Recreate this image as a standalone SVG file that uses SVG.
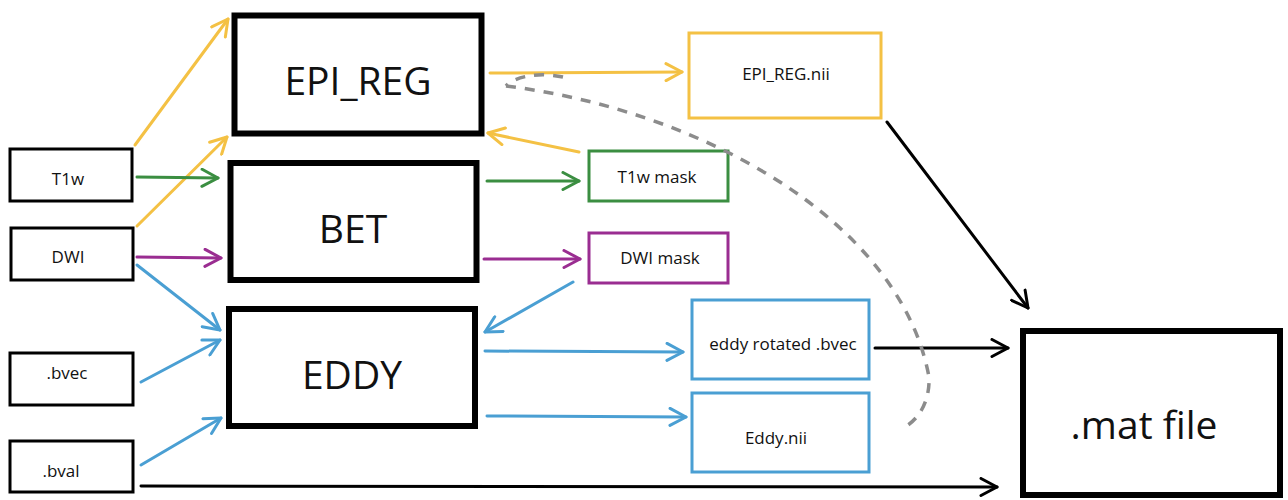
<svg xmlns="http://www.w3.org/2000/svg" width="1288" height="500" viewBox="0 0 1288 500">
<style>
  .big{fill:#fff;stroke:#000;stroke-width:6}
  .small{fill:#fff;stroke:#000;stroke-width:3}
  .yel{fill:#fff;stroke:#F4C144;stroke-width:3}
  .grn{fill:#fff;stroke:#3B8E41;stroke-width:3}
  .pur{fill:#fff;stroke:#9A2D91;stroke-width:3}
  .blu{fill:#fff;stroke:#4A9FD3;stroke-width:3}
  text{font-family:"Open Sans","Liberation Sans",sans-serif;fill:#111;text-anchor:middle}
  .tb{font-size:39px}
  .ts{font-size:17px}
  .c{fill:none;stroke-width:3;stroke-linecap:round}
  .cy{stroke:#F4C144}.cg{stroke:#3B8E41}.cp{stroke:#9A2D91}.cb{stroke:#4A9FD3}.ck{stroke:#000}
  .dash{fill:none;stroke:#8C8C8C;stroke-width:3.5;stroke-dasharray:10 9}
</style>
<defs>
  <marker id="ay" viewBox="0 0 20 20" refX="18" refY="10" markerWidth="20" markerHeight="20" markerUnits="userSpaceOnUse" orient="auto"><path d="M2,1.5 L18,10 L2,18.5" fill="none" stroke="#F4C144" stroke-width="3" stroke-linecap="round" stroke-linejoin="round"/></marker>
  <marker id="ag" viewBox="0 0 20 20" refX="18" refY="10" markerWidth="20" markerHeight="20" markerUnits="userSpaceOnUse" orient="auto"><path d="M2,1.5 L18,10 L2,18.5" fill="none" stroke="#3B8E41" stroke-width="3" stroke-linecap="round" stroke-linejoin="round"/></marker>
  <marker id="ap" viewBox="0 0 20 20" refX="18" refY="10" markerWidth="20" markerHeight="20" markerUnits="userSpaceOnUse" orient="auto"><path d="M2,1.5 L18,10 L2,18.5" fill="none" stroke="#9A2D91" stroke-width="3" stroke-linecap="round" stroke-linejoin="round"/></marker>
  <marker id="ab" viewBox="0 0 20 20" refX="18" refY="10" markerWidth="20" markerHeight="20" markerUnits="userSpaceOnUse" orient="auto"><path d="M2,1.5 L18,10 L2,18.5" fill="none" stroke="#4A9FD3" stroke-width="3" stroke-linecap="round" stroke-linejoin="round"/></marker>
  <marker id="ak" viewBox="0 0 20 20" refX="18" refY="10" markerWidth="20" markerHeight="20" markerUnits="userSpaceOnUse" orient="auto"><path d="M2,1.5 L18,10 L2,18.5" fill="none" stroke="#000" stroke-width="3" stroke-linecap="round" stroke-linejoin="round"/></marker>
</defs>
<rect width="1288" height="500" fill="#fff"/>

<g id="nodes">
  <g id="epi_reg"><rect class="big" x="234.5" y="15.5" width="247" height="118"/><text class="tb" x="358" y="95">EPI_REG</text></g>
  <g id="bet"><rect class="big" x="230.5" y="163" width="246" height="117"/><text class="tb" x="353" y="243">BET</text></g>
  <g id="eddy"><rect class="big" x="229" y="309" width="246" height="117"/><text class="tb" x="352" y="389">EDDY</text></g>
  <g id="t1w"><rect class="small" x="10" y="149" width="122" height="52"/><text class="ts" x="68" y="185">T1w</text></g>
  <g id="dwi"><rect class="small" x="11" y="228" width="122" height="52"/><text class="ts" x="68" y="263">DWI</text></g>
  <g id="bvec"><rect class="small" x="10" y="353" width="123" height="52"/><text class="ts" x="67" y="379">.bvec</text></g>
  <g id="bval"><rect class="small" x="10" y="441" width="123" height="51"/><text class="ts" x="61" y="477">.bval</text></g>
  <g id="epi_reg_nii"><rect class="yel" x="689" y="33" width="192" height="85"/><text class="ts" x="786" y="80">EPI_REG.nii</text></g>
  <g id="t1w_mask"><rect class="grn" x="589" y="151" width="139" height="50"/><text class="ts" x="657" y="183">T1w mask</text></g>
  <g id="dwi_mask"><rect class="pur" x="589" y="233" width="139" height="50"/><text class="ts" x="660" y="264">DWI mask</text></g>
  <g id="eddy_bvec"><rect class="blu" x="692" y="300" width="177" height="79"/><text class="ts" x="783" y="350">eddy rotated .bvec</text></g>
  <g id="eddy_nii"><rect class="blu" x="692" y="393" width="177" height="79"/><text class="ts" x="776" y="444">Eddy.nii</text></g>
  <g id="mat"><rect class="big" x="1023" y="331" width="257" height="164"/><text class="tb" x="1144" y="439">.mat file</text></g>
</g>

<g id="connectors">
  <line class="c cy" x1="135" y1="145" x2="228" y2="19" marker-end="url(#ay)"/>
  <line class="c cy" x1="137" y1="226" x2="227" y2="137" marker-end="url(#ay)"/>
  <line class="c cy" x1="490" y1="73" x2="682" y2="72" marker-end="url(#ay)"/>
  <line class="c cy" x1="579" y1="152" x2="488" y2="133" marker-end="url(#ay)"/>
  <line class="c cg" x1="137" y1="177" x2="218" y2="178" marker-end="url(#ag)"/>
  <line class="c cg" x1="487" y1="181" x2="579" y2="181" marker-end="url(#ag)"/>
  <line class="c cp" x1="137" y1="257" x2="221" y2="258" marker-end="url(#ap)"/>
  <line class="c cp" x1="484" y1="259" x2="580" y2="259" marker-end="url(#ap)"/>
  <line class="c cb" x1="137" y1="265" x2="220" y2="330" marker-end="url(#ab)"/>
  <line class="c cb" x1="141" y1="382" x2="220" y2="340" marker-end="url(#ab)"/>
  <line class="c cb" x1="141" y1="465" x2="221" y2="418" marker-end="url(#ab)"/>
  <line class="c cb" x1="573" y1="282" x2="485" y2="332" marker-end="url(#ab)"/>
  <line class="c cb" x1="485" y1="351" x2="683" y2="352" marker-end="url(#ab)"/>
  <line class="c cb" x1="487" y1="416" x2="686" y2="417" marker-end="url(#ab)"/>
  <line class="c ck" x1="887" y1="122" x2="1028" y2="308" marker-end="url(#ak)"/>
  <line class="c ck" x1="875" y1="348" x2="1008" y2="348" marker-end="url(#ak)"/>
  <line class="c ck" x1="141" y1="486" x2="997" y2="487" marker-end="url(#ak)"/>
  <path class="dash" d="M563,77 C540,72 515,76 506,86"/>
  <path class="dash" d="M506,86 C700,110 900,220 929,377 C930,400 920,418 905,427"/>
</g>
</svg>
